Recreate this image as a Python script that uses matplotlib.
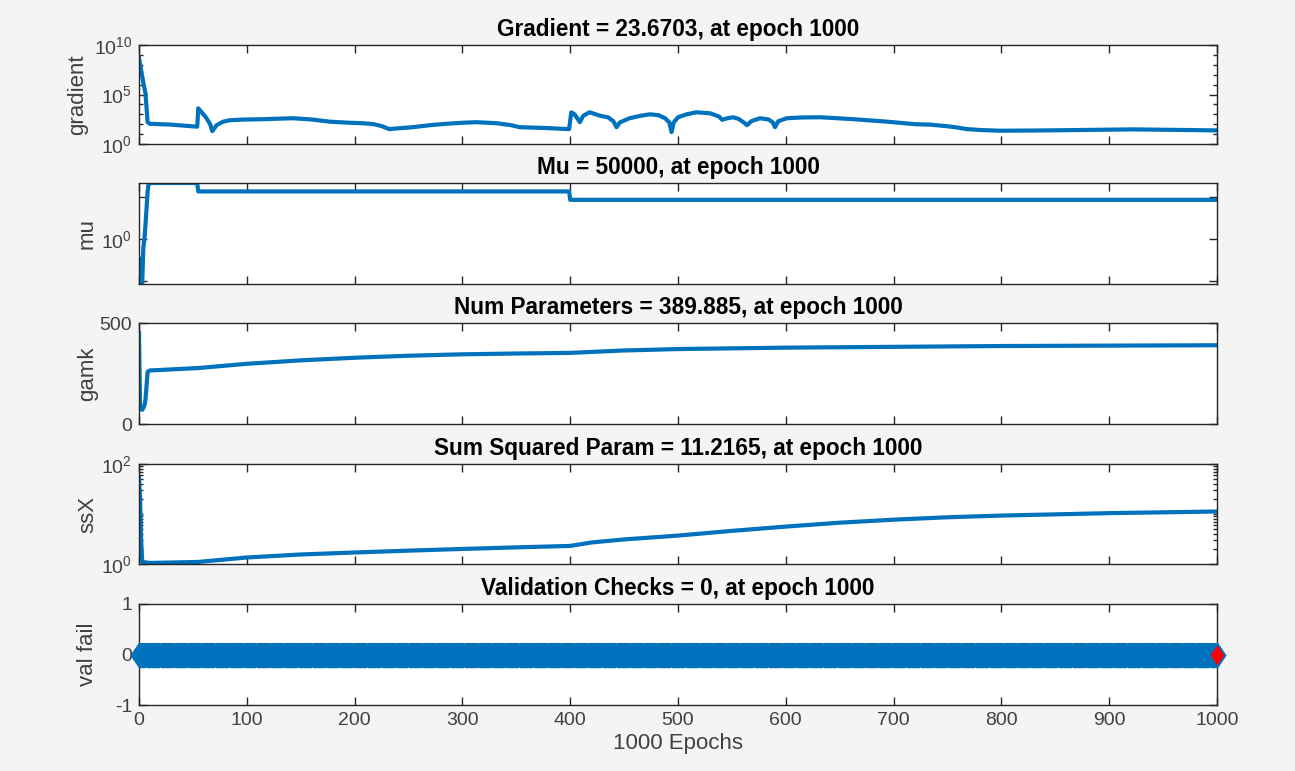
import numpy as np
import matplotlib
matplotlib.use("Agg")
import matplotlib.pyplot as plt
from matplotlib.ticker import FixedLocator, FixedFormatter, NullFormatter

plt.rcParams['font.family'] = ['Liberation Sans', 'DejaVu Sans']
plt.rcParams['mathtext.fontset'] = 'custom'
plt.rcParams['mathtext.rm'] = 'Liberation Sans'
plt.rcParams['mathtext.it'] = 'Liberation Sans'
plt.rcParams['axes.unicode_minus'] = False

# ---------------- data ----------------
titles = ["Gradient = 23.6703, at epoch 1000",
          "Mu = 50000, at epoch 1000",
          "Num Parameters = 389.885, at epoch 1000",
          "Sum Squared Param = 11.2165, at epoch 1000",
          "Validation Checks = 0, at epoch 1000"]
ylabels = ["gradient", "mu", "gamk", "ssX", "val fail"]
xlabel = "1000 Epochs"
x_ticks = [0, 100, 200, 300, 400, 500, 600, 700, 800, 900, 1000]

grad_epochs = [0, 4, 6, 8, 10, 30, 54, 55, 62, 66, 68, 72, 78, 84, 95, 115, 143, 160, 177,
               195, 208, 218, 226, 232, 240, 254, 270, 285, 300, 313, 332, 345, 353, 380,
               399, 401, 404, 409, 412, 418, 428, 435, 440, 443, 446, 455, 465, 474, 482,
               488, 492, 494, 496, 500, 508, 517, 530, 538, 541, 546, 551, 556, 561, 564,
               568, 576, 584, 588, 590, 593, 601, 615, 632, 663, 694, 720, 734, 748, 757,
               768, 780, 799, 830, 861, 922, 1000]
grad_values = [5e8, 1.6e6, 1.3e5, 160, 110, 90, 56, 4000, 500, 100, 20, 80, 180, 250, 290,
               320, 400, 300, 180, 140, 125, 100, 60, 32, 38, 50, 80, 110, 140, 160, 125, 80,
               50, 40, 32, 1600, 1000, 160, 700, 1600, 700, 500, 200, 50, 150, 400, 700,
               1000, 800, 400, 150, 16, 150, 500, 1000, 1600, 1250, 600, 280, 400, 500, 350,
               150, 80, 200, 400, 300, 150, 50, 200, 400, 480, 500, 320, 180, 100, 90, 65, 50,
               32, 26, 22, 23, 25, 30, 23.6703]

mu_epochs = [0, 1, 2, 3, 4, 5, 6, 7, 8, 9, 10, 54, 55, 399, 400, 1000]
mu_values = [5e-3, 5e-5, 5e-6, 5e-6, 1e-1, 1.0, 5e1, 5e3, 5e5, 5e6, 5e6, 5e6, 5e5, 5e5,
             5e4, 5e4]

gamk_epochs = [0, 1, 3, 5, 6, 8, 10, 55, 100, 150, 200, 250, 300, 350, 400, 450, 500, 600,
               700, 800, 900, 1000]
gamk_values = [450, 80, 70, 90, 120, 258, 265, 277, 298, 315, 328, 338, 345, 349, 352, 364,
               371, 378, 382, 386, 388, 389.885]

ssx_epochs = [0, 1, 2, 3, 10, 55, 100, 150, 200, 250, 300, 350, 400, 420, 450, 500, 550,
              600, 650, 700, 750, 800, 900, 1000]
ssx_values = [52, 20, 3, 1.1, 1.05, 1.1, 1.35, 1.55, 1.7, 1.85, 2.0, 2.15, 2.3, 2.7, 3.1,
              3.7, 4.6, 5.6, 6.7, 7.7, 8.6, 9.3, 10.4, 11.2165]

val_epochs = list(range(0, 1001))
val_values = [0] * 1001
best_epoch = [1000]
best_value = [0]

# ---------------- figure ----------------
W, H = 1295, 771
fig = plt.figure(figsize=(W / 100, H / 100), dpi=100, facecolor='#f4f4f4')

blue = '#0072BD'
axcol = '#262626'
tickcol = '#404040'

boxes_px = [(45, 144), (183, 284), (323, 424), (464, 564), (604, 705)]
left_px, right_px = 139, 1217

axes = []
for (t, b) in boxes_px:
    ax = fig.add_axes([left_px / W, 1 - b / H, (right_px - left_px) / W, (b - t) / H])
    ax.set_facecolor('white')
    for s in ax.spines.values():
        s.set_color(axcol)
        s.set_linewidth(1.0)
    ax.tick_params(which='both', direction='in', top=True, right=True,
                   colors=axcol, labelcolor=tickcol, labelsize=14, width=1.0)
    ax.tick_params(which='major', length=5.5, pad=5)
    ax.tick_params(which='minor', length=3.2)
    ax.set_xlim(0, 1000)
    ax.xaxis.set_major_locator(FixedLocator(x_ticks))
    axes.append(ax)

lw = 3.0

# gradient
ax = axes[0]
ax.plot(grad_epochs, grad_values, color=blue, lw=lw, solid_joinstyle='round')
ax.set_yscale('log')
ax.set_ylim(1, 1e10)
ax.yaxis.set_major_locator(FixedLocator([1, 1e5, 1e10]))
ax.yaxis.set_major_formatter(FixedFormatter([r'$10^{0}$', r'$10^{5}$', r'$10^{10}$']))
ax.yaxis.set_minor_locator(FixedLocator([10.0 ** k for k in [1, 2, 3, 4, 6, 7, 8, 9]]))
ax.yaxis.set_minor_formatter(NullFormatter())

# mu
ax = axes[1]
ax.plot(mu_epochs, mu_values, color=blue, lw=lw)
ax.set_yscale('log')
ax.set_ylim(5e-6, 5e6)
ax.yaxis.set_major_locator(FixedLocator([1e-5, 1, 1e5]))
ax.yaxis.set_major_formatter(FixedFormatter(['', r'$10^{0}$', '']))
ax.yaxis.set_minor_locator(FixedLocator([]))
ax.yaxis.set_minor_formatter(NullFormatter())

# gamk
ax = axes[2]
ax.plot(gamk_epochs, gamk_values, color=blue, lw=lw)
ax.set_ylim(0, 500)
ax.yaxis.set_major_locator(FixedLocator([0, 500]))
ax.yaxis.set_major_formatter(FixedFormatter(['0', '500']))

# ssX
ax = axes[3]
ax.plot(ssx_epochs, ssx_values, color=blue, lw=lw)
ax.set_yscale('log')
ax.set_ylim(1, 100)
ax.yaxis.set_major_locator(FixedLocator([1, 100]))
ax.yaxis.set_major_formatter(FixedFormatter([r'$10^{0}$', r'$10^{2}$']))
ax.yaxis.set_minor_locator(FixedLocator([10, 2, 3, 4, 5, 6, 7, 8, 9, 20, 30, 40, 50, 60, 70, 80, 90]))
ax.yaxis.set_minor_formatter(NullFormatter())

# val fail
ax = axes[4]
diamond = [(0, 1), (0.68, 0), (0, -1), (-0.68, 0), (0, 1)]
ax.plot(val_epochs, val_values, color=blue, lw=lw, marker=diamond, ms=17.5,
        mfc=blue, mec=blue, clip_on=False, zorder=3)
ax.plot(best_epoch, best_value, linestyle='none',
        marker=[(0, 1), (0.66, 0), (0, -1), (-0.66, 0), (0, 1)],
        ms=13, mfc='#ff0000', mec='#ff0000', clip_on=False, zorder=4)
ax.set_ylim(-1, 1)
ax.yaxis.set_major_locator(FixedLocator([-1, 0, 1]))
ax.yaxis.set_major_formatter(FixedFormatter(['-1', '0', '1']))
ax.set_xlabel(xlabel, fontsize=16, color=tickcol, labelpad=3)

for i, ax in enumerate(axes):
    ax.set_title(titles[i], fontsize=16.3, fontweight='bold', color='black', pad=6.5)
    ax.set_ylabel(ylabels[i], fontsize=16, color=tickcol)
    if i < 4:
        ax.tick_params(labelbottom=False)
    xl = (88 if i == 0 else 98) - left_px
    ax.yaxis.set_label_coords(xl / (right_px - left_px), 0.5)

fig.savefig('out.png', dpi=100, facecolor=fig.get_facecolor())
